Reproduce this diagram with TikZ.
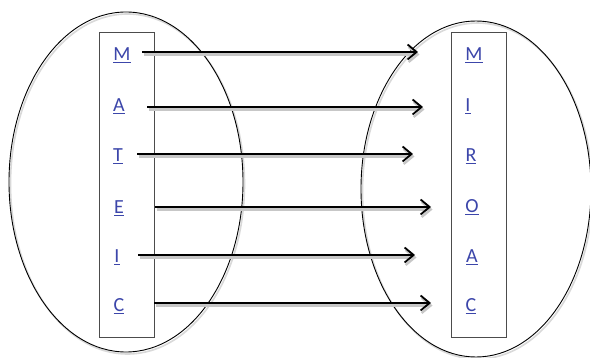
\documentclass[tikz,border=0pt]{standalone}
\usepackage{fontspec}
\setmainfont{Carlito}
\usetikzlibrary{arrows.meta}
\definecolor{linkblue}{RGB}{60,70,170}
\tikzset{
  letter/.style={text=linkblue, font=\fontsize{20}{22}\selectfont, inner sep=0pt},
  setbox/.style={draw=black!70, line width=0.8pt},
  setoval/.style={draw=black, line width=0.9pt},
  ovalshadow/.style={draw=black!15, line width=1.6pt},
  maparrow/.style={draw=black, line width=1.8pt, -{Straight Barb[length=9pt, width=15pt, line width=1.8pt]}},
  arrowshadow/.style={draw=black!22, line width=2.4pt, -{Straight Barb[length=9pt, width=15pt, line width=2.4pt]}}
}
\newcommand{\ulink}[1]{\underline{#1}}
\begin{document}
\begin{tikzpicture}[x=1pt, y=-1pt]
\useasboundingbox (0,0) rectangle (590,358);
\fill[white] (0,0) rectangle (590,358);

% the two sets
\draw[ovalshadow] (127.5,184) ellipse [x radius=117, y radius=170];
\draw[setoval] (126,182) ellipse [x radius=117, y radius=170];
\draw[ovalshadow] (477.5,191) ellipse [x radius=115, y radius=168];
\draw[setoval] (476,189) ellipse [x radius=115, y radius=168];

\draw[setbox] (99,32) rectangle (154,337);
\draw[setbox] (451,32) rectangle (506,337);

% domain letters
\node[letter] (m1) at (122,55) {\ulink{M}};
\node[letter] (a1) at (119,106) {\ulink{A}};
\node[letter] (t1) at (118,156) {\ulink{T}};
\node[letter] (e1) at (119,208) {\ulink{E}};
\node[letter] (i1) at (117,257) {\ulink{I}};
\node[letter] (c1) at (119,306) {\ulink{C}};

% codomain letters
\node[letter] (m2) at (474,55) {\ulink{M}};
\node[letter] (i2) at (468,106) {\ulink{I}};
\node[letter] (r2) at (471,156) {\ulink{R}};
\node[letter] (o2) at (472,207) {\ulink{O}};
\node[letter] (a2) at (472,257) {\ulink{A}};
\node[letter] (c2) at (471,306) {\ulink{C}};

% arrow end points
\coordinate (s1) at (142,52);  \coordinate (f1) at (418,52);
\coordinate (s2) at (147,107); \coordinate (f2) at (423,107);
\coordinate (s3) at (137,154); \coordinate (f3) at (413,154);
\coordinate (s4) at (155,207); \coordinate (f4) at (431,207);
\coordinate (s5) at (138,255); \coordinate (f5) at (415,255);
\coordinate (s6) at (154,303); \coordinate (f6) at (431,303);

% the mapping arrows with their shadows
\foreach \k in {1,...,6}{
  \draw[arrowshadow, transform canvas={shift={(1.5pt,-2.5pt)}}] (s\k) -- (f\k);
}
\foreach \k in {1,...,6}{
  \draw[maparrow] (s\k) -- (f\k);
}
\end{tikzpicture}
\end{document}
